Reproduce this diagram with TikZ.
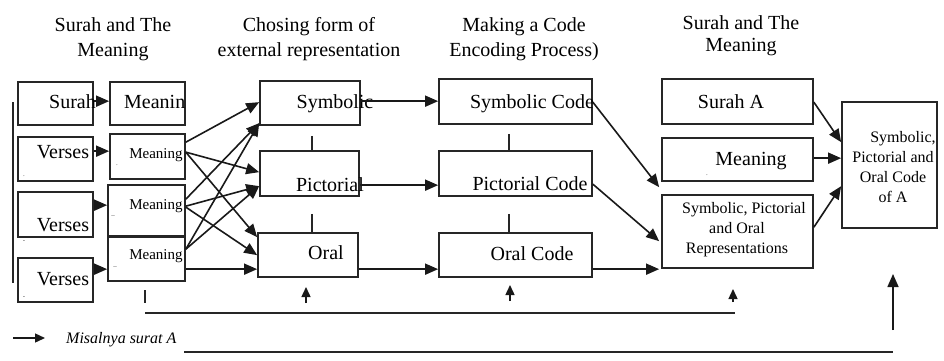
\documentclass[tikz,border=0pt]{standalone}
\usepackage{fontspec}
\setmainfont{Liberation Serif}
\usetikzlibrary{arrows.meta,fit}
\begin{document}
\begin{tikzpicture}[x=1pt,y=-1pt,
  box/.style={draw=black!85, line width=1.7pt, inner sep=0pt},
  arr/.style={draw=black!90, line width=1.6pt, -{Triangle[length=13pt,width=11pt]}},
  sarr/.style={draw=black!90, line width=1.4pt, -{Triangle[length=10pt,width=9pt]}},
  ln/.style={draw=black!85, line width=1.6pt},
  big/.style={font=\fontsize{20}{24}\selectfont, inner sep=0pt, anchor=base},
  mid/.style={font=\fontsize{15}{18}\selectfont, inner sep=0pt, anchor=base},
  hdr/.style={font=\fontsize{20}{25}\selectfont, inner sep=0pt, align=center},
  sml/.style={font=\fontsize{16}{20}\selectfont, inner sep=0pt, align=center},
  dotmark/.style={font=\fontsize{7}{7}\selectfont, inner sep=0pt, text=black!70}]
\useasboundingbox (0,0) rectangle (944,360);
% headers
\node[hdr] (h1) at (113,38.8) {Surah and The\\Meaning};
\node[hdr] (h2) at (309,38.8) {Chosing form of\\external representation};
\node[hdr] (h3) at (524,38.8) {Making a Code\\Encoding Process)};
\node[hdr, font=\fontsize{20}{22}\selectfont] (h4) at (741,35.3) {Surah and The\\Meaning};
% boxes
\node[box, fit={(18,82)(93,125)}] (surah) {};
\node[box, fit={(18,137)(93,181)}] (v1) {};
\node[box, fit={(18,192)(93,237)}] (v2) {};
\node[box, fit={(18,258)(93,302)}] (v3) {};
\node[box, fit={(110,82)(185,125)}] (meanin) {};
\node[box, fit={(110,134)(185,179)}] (m1) {};
\node[box, fit={(108,185)(185,236)}] (m2) {};
\node[box, fit={(108,237)(185,281)}] (m3) {};
\node[box, fit={(260,81)(360,125)}] (sym) {};
\node[box, fit={(260,151)(359,196)}] (pic) {};
\node[box, fit={(258,233)(358,277)}] (oral) {};
\node[box, fit={(439,79)(592,124)}] (symc) {};
\node[box, fit={(439,151)(592,196)}] (picc) {};
\node[box, fit={(439,233)(592,277)}] (oralc) {};
\node[box, fit={(662,79)(813,124)}] (surA) {};
\node[box, fit={(662,138)(813,181)}] (meanR) {};
\node[box, fit={(662,195)(813,268)}] (rep) {};
\node[box, fit={(842,102)(937,228)}] (fin) {};
% texts
\node[big, anchor=base east] (tsurah) at (96,108) {Surah};
\node[big, anchor=base west] (tmeanin) at (124,108) {Meanin};
\node[big] (tv1) at (63,158) {Verses};
\node[big] (tv2) at (63,231) {Verses};
\node[big] (tv3) at (63,285) {Verses};
\node[mid] (tm1) at (156,158) {Meaning};
\node[mid] (tm2) at (156,209) {Meaning};
\node[mid] (tm3) at (156,259) {Meaning};
\node[big] (tsym) at (335,108) {Symbolic};
\node[big] (tpic) at (330,191) {Pictorial};
\node[big] (toral) at (326,259) {Oral};
\node[big] (tsymc) at (532,108) {Symbolic Code};
\node[big] (tpicc) at (530,190) {Pictorial Code};
\node[big] (toralc) at (532,260) {Oral Code};
\node[big] (tsurA) at (731,108) {Surah A};
\node[big] (tmeanR) at (751,165) {Meaning};
\node[sml] (trep) at (737,229.3) {\hspace*{14pt}Symbolic, Pictorial\\and Oral\\Representations};
\node[sml, font=\fontsize{16}{19.7}\selectfont] (tfin) at (893,167) {\hspace*{20pt}Symbolic,\\Pictorial and\\Oral Code\\of A};
% small marks
\node[dotmark] (d1) at (24,176) {.};
\node[dotmark] (d2) at (117,165) {.};
\node[dotmark] (d3) at (113,217) {--};
\node[dotmark] (d4) at (24,242) {-};
\node[dotmark] (d5) at (115,268) {--};
\node[dotmark] (d6) at (24,298) {-};
\node[dotmark] (d7) at (707,175) {.};
% arrows column 1 -> 2
\draw[arr] ([yshift=-20pt]surah.north east) -- ([yshift=-20pt]meanin.north west);
\draw[arr] ([yshift=-15pt]v1.north east) -- ([yshift=-18pt]m1.north west);
\draw[arr] ([yshift=-14pt]v2.north east) -- ([yshift=-21pt]m2.north west);
\draw[arr] ([yshift=-12pt]v3.north east) -- ([yshift=-33pt]m3.north west);
% meaning -> forms
\draw[arr] ([yshift=-9pt]m1.north east) -- ([yshift=-22pt]sym.north west);
\draw[arr] ([yshift=-19pt]m1.north east) -- ([yshift=-22pt]pic.north west);
\draw[arr] ([yshift=-19pt]m1.north east) -- ([yshift=-5pt]oral.north west);
\draw[arr] ([yshift=-15pt]m2.north east) -- ([yshift=-43pt]sym.north west);
\draw[arr] ([yshift=-22pt]m2.north east) -- ([yshift=-36pt]pic.north west);
\draw[arr] ([yshift=-23pt]m2.north east) -- ([yshift=-23pt]oral.north west);
\draw[arr] ([yshift=-13pt]m3.north east) -- ([yshift=-43pt]sym.north west);
\draw[arr] ([yshift=-13pt]m3.north east) -- ([yshift=-36pt]pic.north west);
\draw[arr] ([yshift=-33pt]m3.north east) -- ([yshift=-37pt]oral.north west);
% forms -> codes
\draw[arr] ([yshift=-21pt]sym.north east) -- ([yshift=-23pt]symc.north west);
\draw[arr] ([yshift=-35pt]pic.north east) -- ([yshift=-35pt]picc.north west);
\draw[arr] ([yshift=-37pt]oral.north east) -- ([yshift=-37pt]oralc.north west);
% codes -> representations
\draw[arr] ([yshift=-24pt]symc.north east) -- ([xshift=-2pt,yshift=7pt]rep.north west);
\draw[arr] ([yshift=-34pt]picc.north east) -- ([xshift=-2pt,yshift=-47pt]rep.north west);
\draw[arr] ([yshift=-37pt]oralc.north east) -- ([xshift=-2pt,yshift=-75pt]rep.north west);
% right column -> final
\draw[arr] ([yshift=-24pt]surA.north east) -- ([yshift=-41pt]fin.north west);
\draw[arr] ([yshift=-21pt]meanR.north east) -- ([yshift=-57pt]fin.north west);
\draw[arr] ([yshift=-33pt]rep.north east) -- ([yshift=-85pt]fin.north west);
% vertical links
\draw[ln] ([xshift=2pt,yshift=-10pt]sym.south) -- ([xshift=2.5pt,yshift=-2pt]pic.north);
\draw[ln] ([xshift=2.5pt,yshift=-17pt]pic.south) -- ([xshift=4pt]oral.north);
\draw[ln] ([xshift=-6.5pt,yshift=-9pt]symc.south) -- ([xshift=-6.5pt,yshift=-2pt]picc.north);
\draw[ln] ([xshift=-6.5pt,yshift=-17pt]picc.south) -- ([xshift=-6.5pt]oralc.north);
% bottom part
\draw[ln] (13,102) -- (13,283);
\draw[ln] (145,290) -- (145,303);
\draw[ln, line width=2pt] (145,313) -- (735,313);
\draw[sarr] (306,303) -- (306,287);
\draw[sarr] (510,301) -- (510,285);
\draw[sarr] (733,302) -- (733,289);
\draw[arr] (893,330) -- (893,274);
\draw[ln, line width=2pt] (184,352) -- (893,352);
\draw[sarr] (13,338) -- (45,338);
\node[font=\itshape\fontsize{16}{18}\selectfont, anchor=base west, inner sep=0pt] (leg) at (66,343) {Misalnya surat A};
\end{tikzpicture}
\end{document}
